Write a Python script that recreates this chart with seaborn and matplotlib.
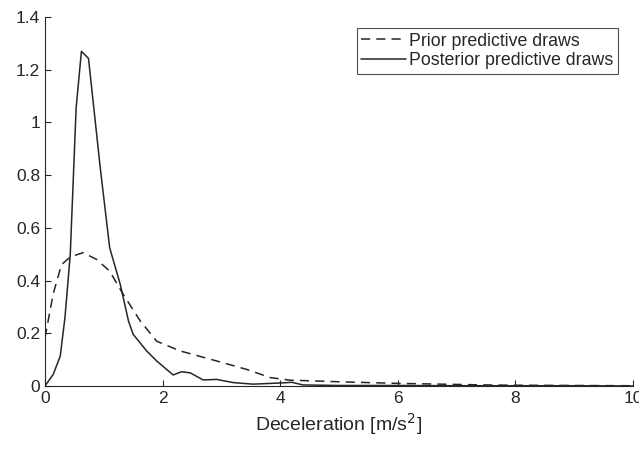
#!/usr/bin/env python3
"""
Prior vs posterior predictive density of deceleration.
"""

import pandas as pd
import matplotlib
matplotlib.use("Agg")
import matplotlib.pyplot as plt
import seaborn as sns

# Prior predictive draws (dashed)
prior_x = [0.0, 0.14, 0.28, 0.43, 0.65, 0.88, 1.1, 1.33, 1.62, 1.9, 2.3, 2.92,
           3.43, 3.83, 4.17, 4.62, 5.0, 5.5, 6.0, 6.5, 7.0, 7.5, 8.0, 9.0, 10.0]
prior_y = [0.183, 0.35, 0.46, 0.49, 0.506, 0.48, 0.436, 0.348, 0.247, 0.17, 0.133, 0.095,
           0.063, 0.032, 0.022, 0.019, 0.016, 0.013, 0.01, 0.008, 0.006, 0.004, 0.003, 0.002, 0.001]

# Posterior predictive draws (solid)
post_x = [0.0, 0.14, 0.26, 0.34, 0.43, 0.53, 0.62, 0.74, 0.94, 1.1, 1.28, 1.42, 1.5,
          1.73, 1.9, 2.18, 2.32, 2.47, 2.69, 2.92, 3.2, 3.54, 4.05, 4.2, 4.39, 5.0,
          6.0, 7.0, 8.0, 9.0, 10.0]
post_y = [0.0, 0.044, 0.114, 0.26, 0.50, 1.056, 1.27, 1.243, 0.828, 0.525, 0.386, 0.247, 0.196,
          0.133, 0.095, 0.042, 0.054, 0.05, 0.023, 0.025, 0.013, 0.007, 0.012, 0.014, 0.004, 0.002,
          0.002, 0.001, 0.001, 0.001, 0.0]

df = pd.concat([
    pd.DataFrame({"x": prior_x, "y": prior_y, "series": "Prior predictive draws"}),
    pd.DataFrame({"x": post_x, "y": post_y, "series": "Posterior predictive draws"}),
])

sns.set_style("ticks")
plt.rcParams["font.family"] = ["Liberation Sans", "DejaVu Sans"]
plt.rcParams["xtick.direction"] = "in"
plt.rcParams["ytick.direction"] = "in"

fig = plt.figure(figsize=(6.39, 4.49), dpi=100)
ax = fig.add_axes([0.0704, 0.1403, 0.92, 0.8217])

dark = "#262626"
sns.lineplot(
    data=df, x="x", y="y", hue="series", style="series",
    palette={"Prior predictive draws": dark, "Posterior predictive draws": dark},
    dashes={"Prior predictive draws": (6, 4), "Posterior predictive draws": ""},
    linewidth=1.1, ax=ax, sort=False,
)

ax.set_xlim(0, 10)
ax.set_ylim(0, 1.4)
ax.set_xticks([0, 2, 4, 6, 8, 10])
ax.set_xticklabels(["0", "2", "4", "6", "8", "10"])
ax.set_yticks([0, 0.2, 0.4, 0.6, 0.8, 1.0, 1.2, 1.4])
ax.set_yticklabels(["0", "0.2", "0.4", "0.6", "0.8", "1", "1.2", "1.4"])
ax.tick_params(labelsize=12.5, colors=dark, length=4, width=0.8)
for s in ["left", "bottom"]:
    ax.spines[s].set_color(dark)
    ax.spines[s].set_linewidth(0.8)
sns.despine(ax=ax)

ax.set_xlabel("Deceleration [m/s$^2$]", fontsize=14, color=dark, labelpad=4)
ax.set_ylabel("")

leg = ax.legend(loc="upper right", bbox_to_anchor=(0.9745, 0.97), fontsize=12.8,
                frameon=True, fancybox=False, edgecolor=dark, handlelength=2.5,
                handletextpad=0.2, borderpad=0.25, labelspacing=0.15, borderaxespad=0.0)
leg.get_frame().set_linewidth(0.8)

plt.savefig("out.png", dpi=100)
plt.close()
